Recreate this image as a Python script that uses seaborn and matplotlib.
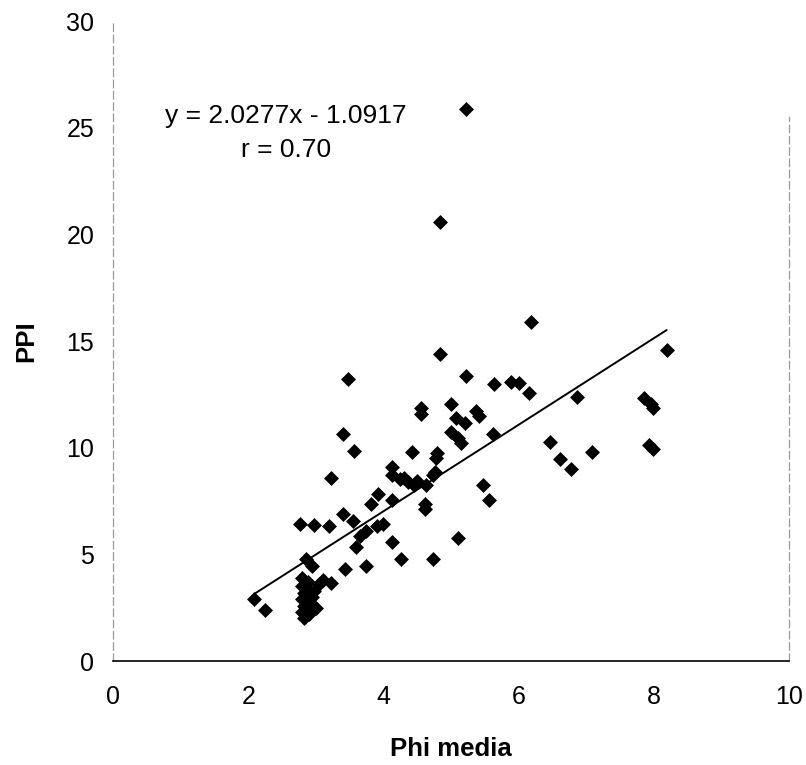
import numpy as np
import pandas as pd
import matplotlib
matplotlib.use("Agg")
import matplotlib.pyplot as plt
import seaborn as sns

# values
phi_media = [5.22, 4.83, 6.18, 4.83, 8.19, 3.47, 5.22, 5.64, 5.89, 6.01,
             6.16, 6.87, 7.86, 7.96, 7.99, 4.56, 4.56, 5.00, 5.37, 5.41,
             5.08, 5.20, 5.00, 5.10, 5.15, 5.62, 3.40, 3.56, 6.46, 6.61,
             6.78, 7.09, 7.93, 7.99, 4.43, 4.80, 4.78, 3.23, 4.12, 4.12,
             4.24, 4.36, 4.46, 4.63, 4.73, 4.76, 5.47, 5.56, 3.92, 3.82,
             4.12, 4.61, 4.61, 3.40, 3.55, 2.76, 2.98, 3.20, 3.75, 3.90,
             3.99, 3.65, 3.60, 4.12, 5.10, 4.26, 4.73, 3.75, 3.43, 2.86,
             2.94, 3.23, 2.09, 2.25, 2.80, 2.80, 2.82, 2.80, 2.83, 2.80,
             2.82, 2.90, 2.95, 2.92, 3.00, 2.90, 3.05, 3.10, 2.88, 2.98,
             4.30, 4.50]
ppi = [25.9, 20.6, 15.9, 14.4, 14.6, 13.2, 13.35, 12.99, 13.1, 13.04,
       12.56, 12.36, 12.33, 12.04, 11.85, 11.86, 11.6, 12.05, 11.7, 11.5,
       11.38, 11.15, 10.75, 10.44, 10.2, 10.63, 10.63, 9.84, 10.25, 9.45,
       8.99, 9.8, 10.12, 9.95, 9.82, 9.73, 9.5, 8.58, 9.1, 8.7,
       8.55, 8.4, 8.23, 8.23, 8.7, 8.88, 8.27, 7.53, 7.84, 7.37,
       7.53, 7.37, 7.15, 6.9, 6.58, 6.42, 6.39, 6.35, 6.1, 6.35,
       6.42, 5.87, 5.34, 5.57, 5.75, 4.77, 4.77, 4.45, 4.3, 4.77,
       4.45, 3.68, 2.92, 2.41, 3.9, 3.5, 3.2, 2.9, 2.6, 2.3,
       2.0, 3.3, 3.0, 2.7, 2.5, 2.2, 3.6, 3.8, 3.7, 3.3,
       8.6, 8.45]

slope, intercept = 2.0277, -1.0917
r_value = 0.70

df = pd.DataFrame({"Phi media": phi_media, "PPI": ppi})

sns.set_style("white")
plt.rcParams["font.family"] = ["Liberation Sans", "DejaVu Sans"]
plt.rcParams["text.color"] = "black"
plt.rcParams["axes.labelcolor"] = "black"

fig = plt.figure(figsize=(8.06, 7.65), dpi=100)
ax = fig.add_axes([0.1402, 0.1359, 0.8387, 0.8366])

sns.scatterplot(data=df, x="Phi media", y="PPI", marker="D", s=58,
                color="black", edgecolor="black", linewidth=0, ax=ax)

# trend line over the data range
xs = np.array([min(phi_media), max(phi_media)])
ax.plot(xs, slope * xs + intercept, color="black", lw=1.4)

ax.set_xlim(0, 10)
ax.set_ylim(0, 30)
ax.set_xticks([0, 2, 4, 6, 8, 10])
ax.set_yticks([0, 5, 10, 15, 20, 25, 30])
ax.tick_params(labelsize=18, length=5, width=0.8, color="#888888",
               labelcolor="black", direction="inout")
ax.tick_params(axis="x", pad=15)
ax.tick_params(axis="y", pad=11)

ax.spines["top"].set_visible(False)
for side in ["left", "right"]:
    ax.spines[side].set_linestyle((0, (6, 3)))
    ax.spines[side].set_color("#9a9a9a")
    ax.spines[side].set_linewidth(0.9)
ax.spines["right"].set_bounds(0, 25.5)
ax.spines["bottom"].set_color("black")
ax.spines["bottom"].set_linewidth(1.2)

ax.set_xlabel("Phi media", fontsize=18.5, fontweight="bold")
ax.set_ylabel("PPI", fontsize=18.5, fontweight="bold")
ax.xaxis.set_label_coords(0.50, -0.118)
ax.yaxis.set_label_coords(-0.11, 0.50)

ax.text(2.56, 25.2, "y = %.4fx - %.4f" % (slope, -intercept), fontsize=19,
        ha="center", va="baseline")
ax.text(2.56, 23.65, "r = %.2f" % r_value, fontsize=19, ha="center",
        va="baseline")

fig.savefig("out.png", dpi=100)
